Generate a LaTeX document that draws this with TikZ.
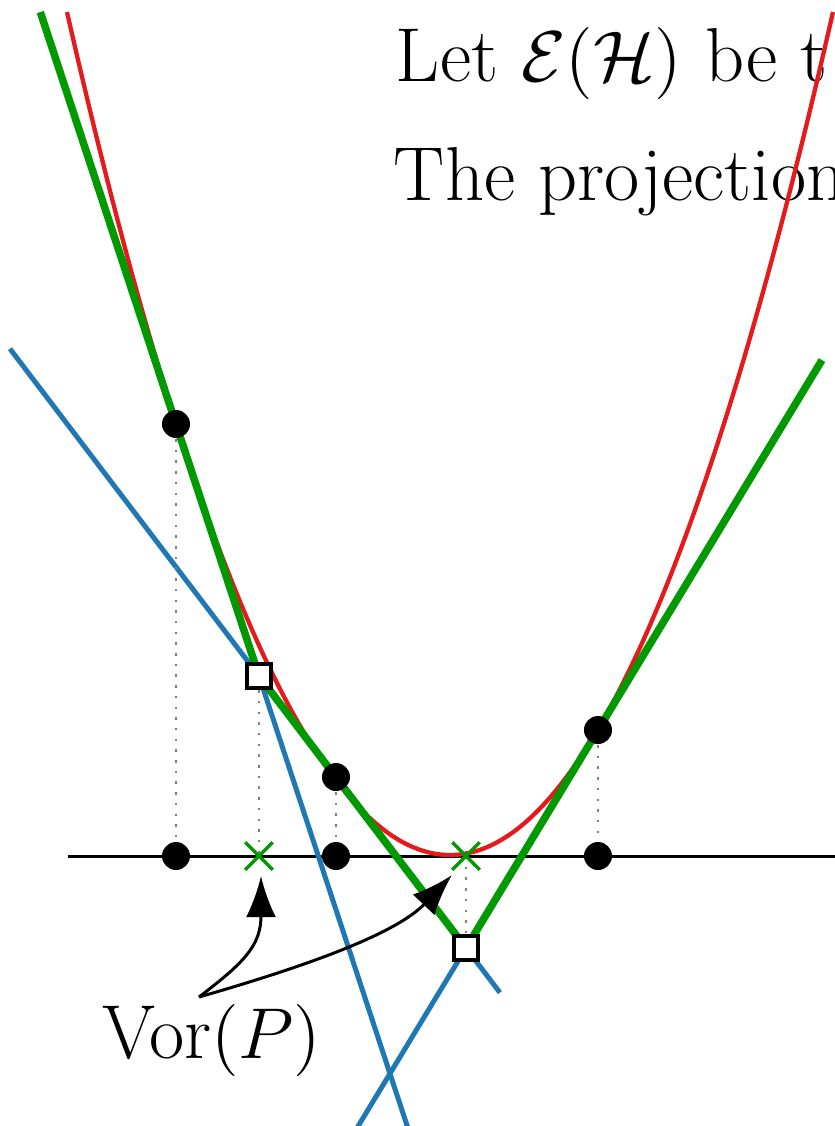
\documentclass[tikz,border=0pt]{standalone}
\usetikzlibrary{shapes.misc,arrows.meta,calc}
\pgfdeclarelayer{bg}
\pgfsetlayers{bg,main}
\definecolor{envgreen}{RGB}{0,153,0}
\definecolor{parred}{RGB}{228,26,28}
\definecolor{linblue}{RGB}{31,120,180}
\definecolor{projgray}{RGB}{128,128,128}
\begin{document}
\begin{tikzpicture}[x=0.2pt,y=-0.2pt,
  parab/.style={draw=parred, line width=0.86pt},
  envelope/.style={draw=envgreen, line width=1.5pt, line join=miter},
  tangent/.style={draw=linblue, line width=1pt},
  axisline/.style={draw=black, line width=0.6pt},
  proj/.style={draw=projgray, line width=0.55pt, dash pattern=on 0.5pt off 1.64pt},
  ptdot/.style={circle, fill=black, inner sep=0pt, minimum size=5.6pt},
  vvert/.style={rectangle, draw=black, fill=white, line width=0.9pt, inner sep=0pt, minimum size=4.76pt},
  vmark/.style={cross out, draw=envgreen, line width=0.7pt, inner sep=0pt, minimum size=4.8pt},
  callout/.style={draw=black, line width=0.6pt, -{Latex[length=8.2pt,width=6pt]}},
  txt/.style={inner sep=0pt, font=\fontsize{15.3}{18}\selectfont}
]
\useasboundingbox (0,0) rectangle (835,1126);
\clip (0,0) rectangle (835,1126);

% points, their projections, Voronoi vertices
\node[ptdot] (p1) at (176,424) {};
\node[ptdot] (p2) at (336,777) {};
\node[ptdot] (p3) at (598,730) {};
\node[ptdot] (a1) at (176,856) {};
\node[ptdot] (a2) at (336,856) {};
\node[ptdot] (a3) at (598,856) {};
\node[vvert] (v1) at (259,676) {};
\node[vvert] (v2) at (466,948) {};
\node[vmark] (x1) at (259,856) {};
\node[vmark] (x2) at (466,856) {};

\coordinate (axl) at (68,856);
\coordinate (axr) at (840,856);
\coordinate (gtl) at ($(v1.center)!2.635!(p1.center)$);
\coordinate (gtr) at ($(v2.center)!2.697!(p3.center)$);
\coordinate (bA0) at ($(v1.center)!-1.203!(v2.center)$);
\coordinate (bA1) at ($(v1.center)!1.164!(v2.center)$);
\coordinate (bB) at ($(p1.center)!2.80!(v1.center)$);
\coordinate (bC) at ($(p3.center)!1.84!(v2.center)$);

\begin{pgfonlayer}{bg}
  \node[txt, anchor=base west] (t1) at (395,81) {Let $\mathcal{E}(\mathcal{H})$ be t};
  \node[txt, anchor=base west] (t2) at (393,200) {The projection};
  \draw[axisline] (axl) -- (axr);
  \draw[tangent] (bA0) -- (bA1);
  \draw[tangent] (v1.center) -- (bB);
  \draw[tangent] (v2.center) -- (bC);
  \draw[proj] (p1) -- (a1);
  \draw[proj] (v1) -- (x1.center);
  \draw[proj] (p2) -- (a2);
  \draw[proj] (p3) -- (a3);
  \draw[proj] (x2.center) -- (v2);
  \draw[parab] plot[domain=67:833, samples=120, smooth] (\x, {855-(0.07581*(\x-450))^2});
  \draw[envelope] (gtl) -- (v1.center) -- (v2.center) -- (gtr);
\end{pgfonlayer}

\node[txt, anchor=base west] (vor) at (101,1058) {Vor$(P)$};
\coordinate (vtail) at (199,997);
\coordinate (tip1) at (261,876);
\coordinate (tip2) at (452,875);
\draw[callout] (vtail) .. controls (245,962) and (261,945) .. (tip1);
\draw[callout] (vtail) .. controls (300,968) and (395,935) .. (tip2);
\end{tikzpicture}
\end{document}
